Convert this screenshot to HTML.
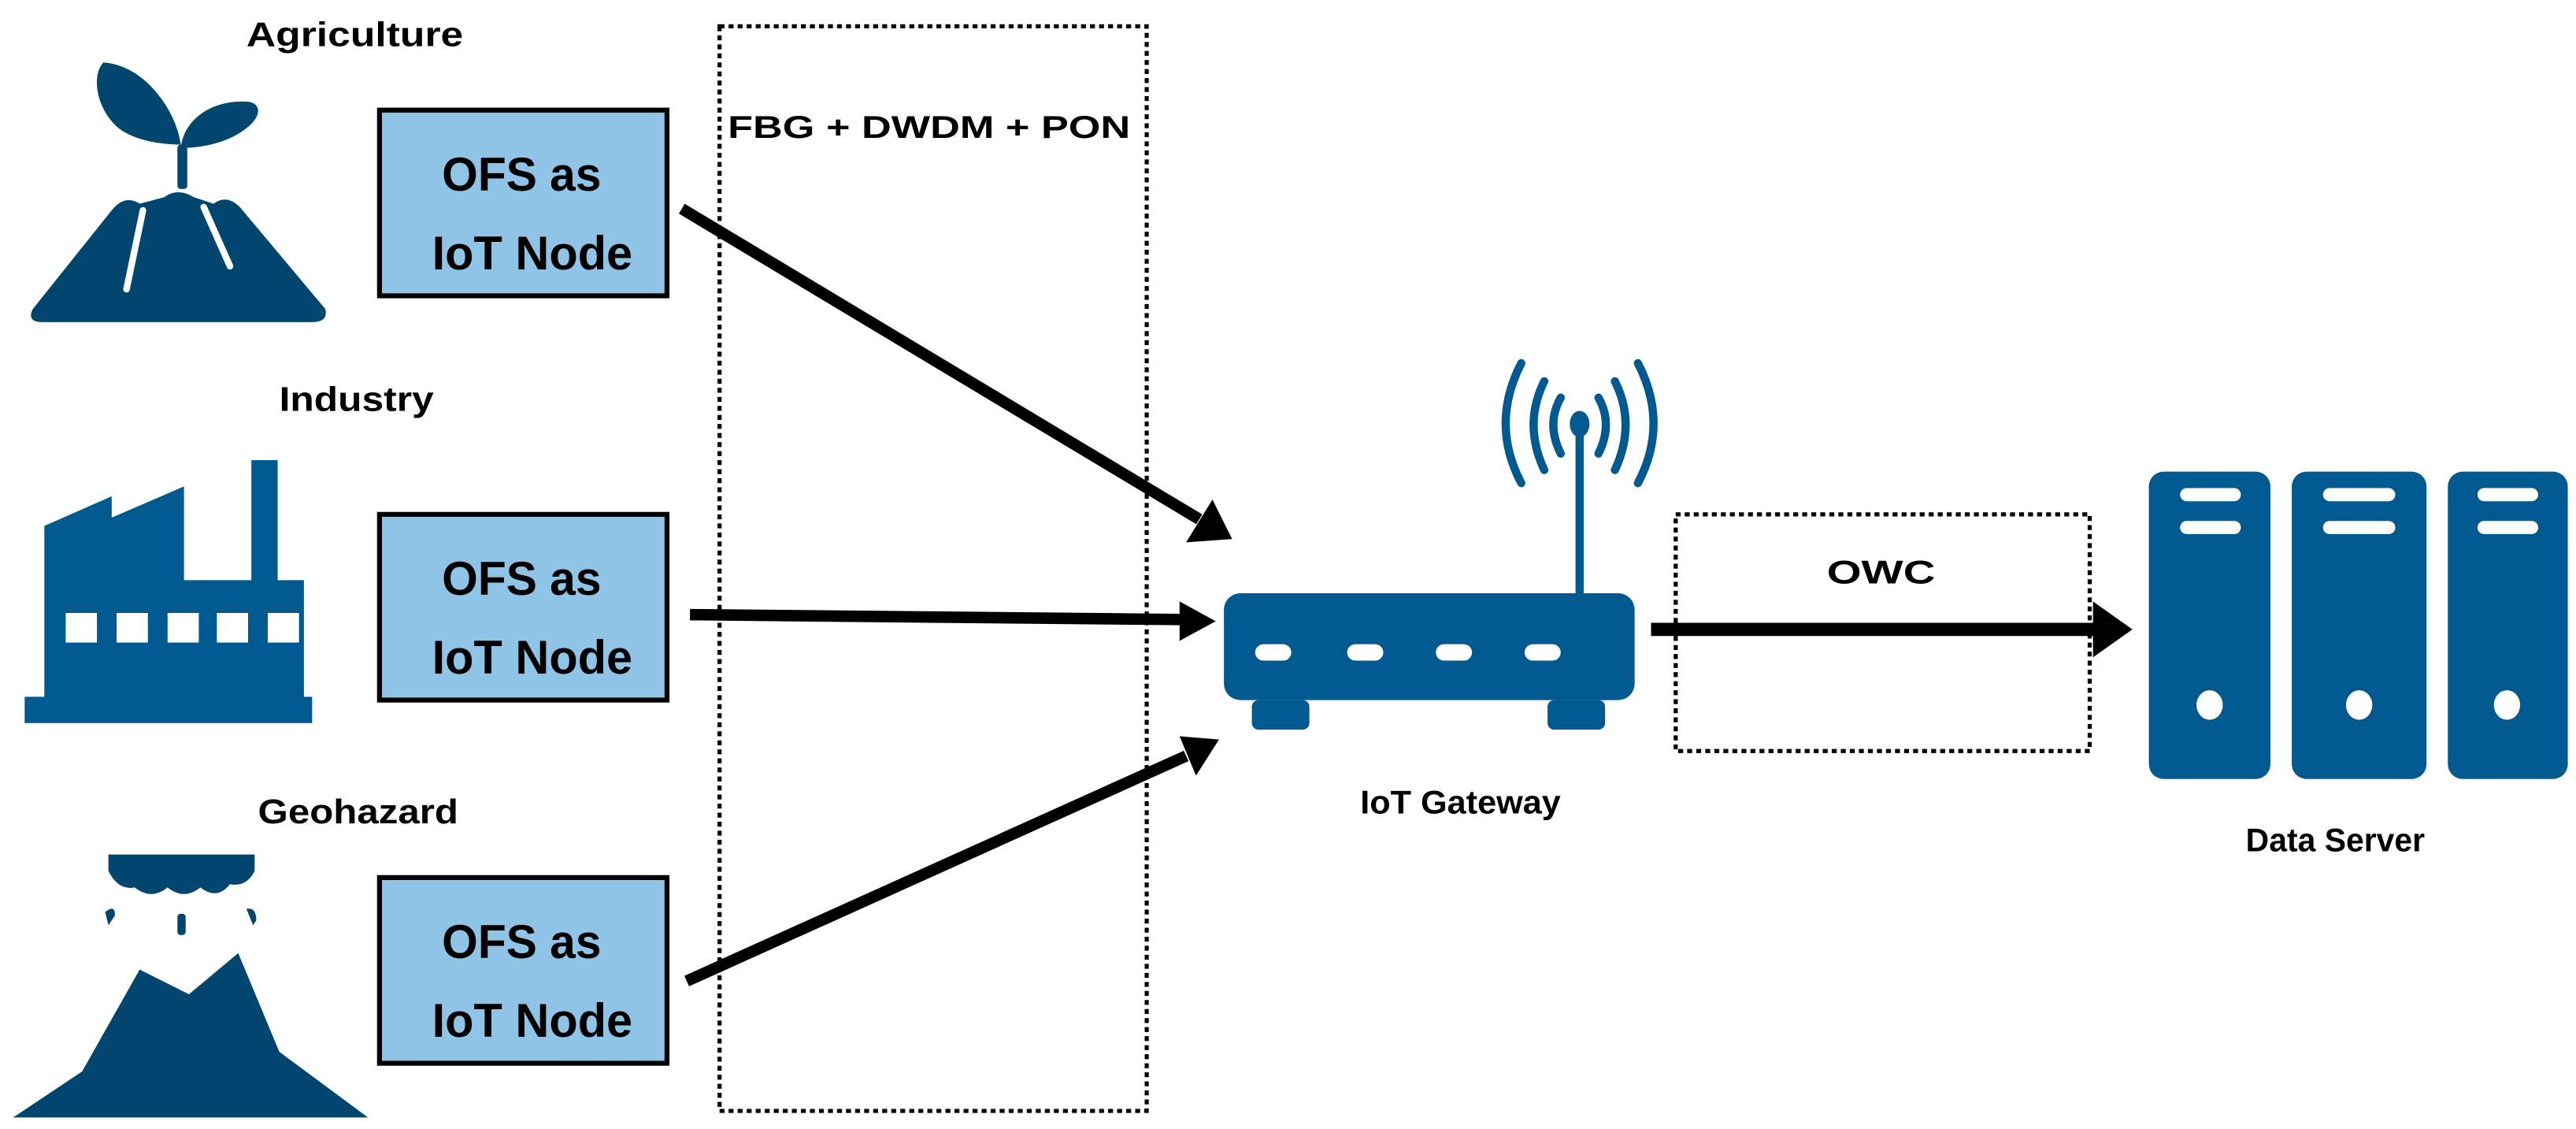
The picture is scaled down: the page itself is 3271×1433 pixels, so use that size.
<!DOCTYPE html>
<html><head><meta charset="utf-8"><style>
html,body{margin:0;padding:0;background:#fff}
svg{display:block}
text{font-family:"Liberation Sans","DejaVu Sans",sans-serif;font-weight:bold;fill:#000}
</style></head><body>
<svg width="3271" height="1433" viewBox="0 0 1568 687" preserveAspectRatio="none" xmlns="http://www.w3.org/2000/svg">
<rect width="1568" height="687" fill="#fff"/>
<!-- labels -->
<text x="150" y="28" font-size="21" textLength="132" lengthAdjust="spacingAndGlyphs">Agriculture</text>
<text x="170" y="250" font-size="21" textLength="94" lengthAdjust="spacingAndGlyphs">Industry</text>
<text x="157" y="501" font-size="21" textLength="122" lengthAdjust="spacingAndGlyphs">Geohazard</text>

<!-- Agriculture icon -->
<g fill="#00466e">
<path d="M63,38 C90,40 108,70 110,88 C100,88 80,86 70,76 C58,64 56,45 63,38 Z"/>
<path d="M110,90 C112,72 130,60 152,62 C160,64 158,72 150,78 C140,86 125,90 110,90 Z"/>
<rect x="108" y="88" width="6" height="27" rx="2"/>
<path d="M20,188 L68,128 Q76,118 85,124 L100,120 Q108,114 118,120 L130,124 Q138,118 146,126 L198,188 Q200,196 190,196 L26,196 Q16,196 20,188 Z"/>
</g>
<g stroke="#fff" stroke-width="4" stroke-linecap="round" fill="none">
<path d="M77,176 L87,128"/>
<path d="M124,126 L140,162"/>
</g>

<!-- Industry icon -->
<g fill="#005a8f">
<rect x="153" y="280" width="16" height="80"/>
<path d="M27,350 L27,320 L68,302 L68,315 L112,296 L112,353 L185,353 L185,430 L27,430 Z"/>
<rect x="15" y="424" width="175" height="16"/>
</g>
<g fill="#fff">
<rect x="40" y="373" width="19" height="18"/><rect x="71" y="373" width="19" height="18"/><rect x="102" y="373" width="19" height="18"/><rect x="132" y="373" width="19" height="18"/><rect x="163" y="373" width="19" height="18"/>
</g>

<!-- Geohazard icon -->
<g fill="#00466e">
<path d="M66,520 L155,520 L155,530 Q150,540 140,538 Q132,548 122,540 Q112,548 102,540 Q92,548 82,540 Q72,542 66,530 Z"/>
<path d="M64,555 Q70,550 70,557 L66,563 Z"/>
<path d="M150,553 Q156,552 156,560 L154,563 Z"/>
<rect x="108" y="556" width="5" height="13" rx="2"/>
<path d="M8,680 L50,652 L85,590 L115,605 L145,580 L170,640 L224,680 Z"/>
</g>

<!-- OFS boxes -->
<g fill="#8fc4e7" stroke="#000" stroke-width="3">
<rect x="231" y="67" width="175" height="113"/>
<rect x="231" y="313" width="175" height="113"/>
<rect x="231" y="534" width="175" height="113"/>
</g>
<g font-size="29">
<text x="269" y="116" textLength="97" lengthAdjust="spacingAndGlyphs">OFS as</text>
<text x="263" y="164" textLength="122" lengthAdjust="spacingAndGlyphs">IoT Node</text>
<text x="269" y="362" textLength="97" lengthAdjust="spacingAndGlyphs">OFS as</text>
<text x="263" y="410" textLength="122" lengthAdjust="spacingAndGlyphs">IoT Node</text>
<text x="269" y="583" textLength="97" lengthAdjust="spacingAndGlyphs">OFS as</text>
<text x="263" y="631" textLength="122" lengthAdjust="spacingAndGlyphs">IoT Node</text>
</g>

<!-- dashed box -->
<rect x="438" y="16" width="260" height="660" fill="none" stroke="#000" stroke-width="2.5" stroke-dasharray="3,2.5"/>
<text x="443" y="84" font-size="19" textLength="245" lengthAdjust="spacingAndGlyphs">FBG + DWDM + PON</text>

<!-- arrows -->
<g stroke="#000" stroke-width="7" fill="none">
<line x1="415" y1="127" x2="730" y2="316"/>
<line x1="420" y1="374" x2="720" y2="377"/>
<line x1="418" y1="597" x2="722" y2="460"/>
<line x1="1005" y1="383" x2="1275" y2="383" stroke-width="8"/>
</g>
<g fill="#000">
<polygon points="750,328 722,330 738,304"/>
<polygon points="740,378 718,366 718,390"/>
<polygon points="742,450 728,472 718,448"/>
<polygon points="1298,383 1274,366 1274,400"/>
</g>

<!-- router -->
<g fill="#005a8f">
<rect x="745" y="361" width="250" height="65" rx="10"/>
<rect x="762" y="426" width="35" height="18" rx="4"/>
<rect x="942" y="426" width="35" height="18" rx="4"/>
<rect x="959" y="260" width="5" height="103"/>
<ellipse cx="961.5" cy="258" rx="6" ry="8"/>
</g>
<g fill="none" stroke="#005a8f" stroke-width="5" stroke-linecap="round">
<path d="M950,242 Q941,258 950,276"/>
<path d="M973,242 Q982,258 973,276"/>
<path d="M940,232 Q927,258 940,286"/>
<path d="M983,232 Q996,258 983,286"/>
<path d="M926,221 Q907,258 926,294"/>
<path d="M997,221 Q1016,258 997,294"/>
</g>
<g fill="#fff">
<rect x="764" y="392" width="22" height="10" rx="5"/>
<rect x="820" y="392" width="22" height="10" rx="5"/>
<rect x="874" y="392" width="22" height="10" rx="5"/>
<rect x="928" y="392" width="22" height="10" rx="5"/>
</g>
<text x="828" y="495" font-size="20" textLength="122" lengthAdjust="spacingAndGlyphs">IoT Gateway</text>

<!-- OWC box -->
<rect x="1020" y="313" width="252" height="144" fill="none" stroke="#000" stroke-width="2.5" stroke-dasharray="3,2.5"/>
<text x="1112" y="355" font-size="20" textLength="66" lengthAdjust="spacingAndGlyphs">OWC</text>

<!-- servers -->
<g fill="#005a8f">
<rect x="1308" y="287" width="74" height="187" rx="9"/>
<rect x="1395" y="287" width="82" height="187" rx="9"/>
<rect x="1490" y="287" width="73" height="187" rx="9"/>
</g>
<g fill="#fff">
<rect x="1327" y="297" width="37" height="8" rx="4"/><rect x="1327" y="317" width="37" height="8" rx="4"/>
<rect x="1414" y="297" width="44" height="8" rx="4"/><rect x="1414" y="317" width="44" height="8" rx="4"/>
<rect x="1508" y="297" width="37" height="8" rx="4"/><rect x="1508" y="317" width="37" height="8" rx="4"/>
<ellipse cx="1345" cy="429" rx="8" ry="9"/><ellipse cx="1436" cy="429" rx="8" ry="9"/><ellipse cx="1526" cy="429" rx="8" ry="9"/>
</g>
<text x="1367" y="518" font-size="20" textLength="109" lengthAdjust="spacingAndGlyphs">Data Server</text>
</svg>
</body></html>
